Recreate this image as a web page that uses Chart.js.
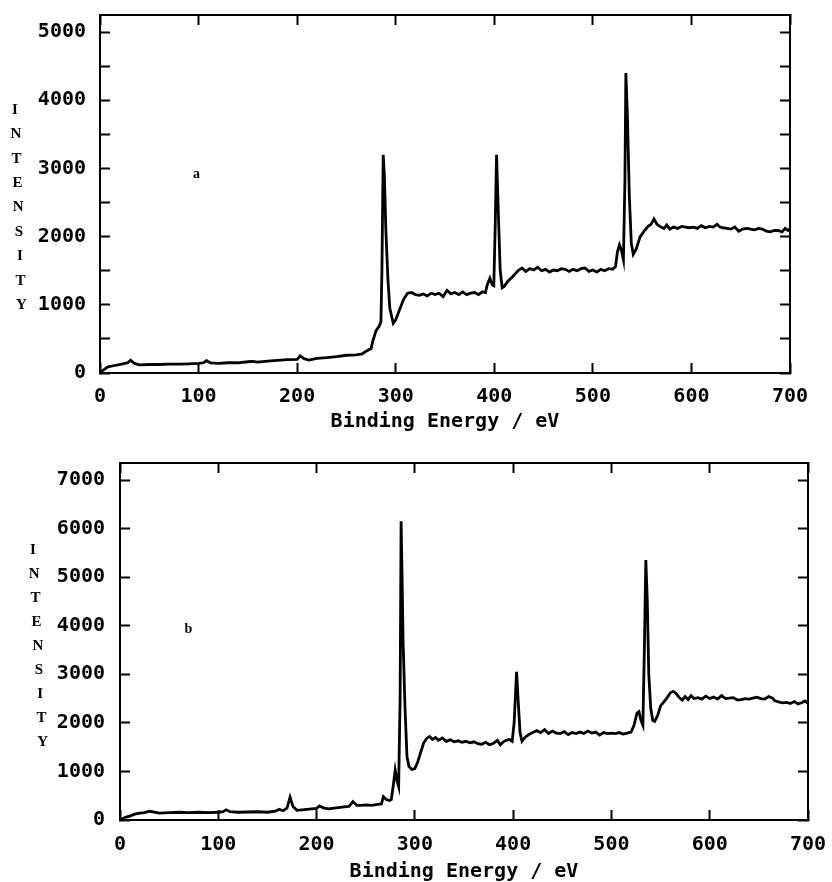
<!DOCTYPE html>
<html>
<head>
<meta charset="utf-8">
<script src="https://cdn.jsdelivr.net/npm/chart.js@4/dist/chart.umd.min.js"></script>
<style>
  html, body { margin: 0; padding: 0; background: #fff; overflow: hidden; }
  #wrapA { position: absolute; left: 0; top: 0; width: 832px; height: 440px; }
  #wrapB { position: absolute; left: 0; top: 440px; width: 832px; height: 442px; }
</style>
</head>
<body>
<div id="wrapA"><canvas id="chartA" width="832" height="440"></canvas></div>
<div id="wrapB"><canvas id="chartB" width="832" height="442"></canvas></div>
<script>
// ---------- data ----------
const energyA = [0,3,8,15,22,28,31,35,40,50,60,70,80,90,100,105,108,112,120,130,140,150,155,160,170,180,190,200,203,207,212,220,230,240,250,260,266,270,275,277,280,283,285,286,287.3,288.5,290,292,294,297.5,300,304,308,312,316,320,324,328,332,336,340,344,348,352,356,360,364,368,372,376,380,384,388,391,393,395.5,398,399.5,401,402.3,404,406,408,410,414,419,424,428,432,436,440,444,448,452,456,460,464,468,472,476,480,484,488,492,496,500,504,508,512,516,520,523,525,527,529,531,532.5,533.5,535,537,539,541,544,548,552,556,559,562,565,568,572,575,578,582,586,590,594,598,602,606,610,614,618,622,626,629,632,636,640,644,648,652,656,660,664,668,672,676,680,684,688,692,695,698,700];
const intensityA = [0,40,90,110,130,150,185,140,120,125,125,130,130,135,140,150,180,150,140,150,150,165,170,160,175,185,195,200,250,210,190,215,225,240,260,265,280,320,360,480,620,680,750,1500,3200,2900,2100,1400,950,730,780,930,1080,1170,1180,1150,1140,1160,1130,1170,1150,1170,1120,1210,1160,1180,1150,1190,1150,1170,1180,1150,1190,1180,1300,1390,1290,1280,2200,3200,2400,1500,1250,1270,1350,1420,1500,1540,1490,1530,1510,1550,1500,1520,1480,1510,1500,1530,1520,1490,1520,1500,1530,1540,1490,1510,1480,1520,1500,1530,1520,1560,1780,1880,1800,1660,2800,4400,3800,2600,1900,1740,1820,2000,2080,2150,2180,2260,2180,2150,2120,2170,2110,2140,2120,2150,2140,2130,2140,2120,2160,2130,2150,2140,2180,2140,2130,2120,2110,2140,2080,2110,2120,2110,2100,2120,2110,2080,2070,2090,2090,2070,2120,2090,2110];

const energyB = [0,3,6,10,15,20,25,30,35,40,50,60,70,80,90,100,105,108,112,120,130,140,150,158,162,166,170,173,176,180,185,190,195,200,203,207,212,220,228,233,237,241,246,250,256,262,266,268,271,274,276,278,280,282,283.5,285,286,287,288,290,292,294,297,300,303,306,309,312,315,318,321,324,328,332,336,340,344,348,352,356,360,364,368,372,376,380,384,387,390,393,396,399,401,403.5,405,407,409,412,416,420,424,428,432,436,440,444,448,452,456,460,464,468,472,476,480,484,488,492,496,500,504,508,512,516,520,523,526,528,530,532,533.5,535,536.5,538,540,542,544,547,550,553,556,560,563,566,569,572,575,578,581,584,588,592,596,600,604,608,612,616,620,624,628,632,636,640,644,648,652,656,660,664,666,670,674,678,682,686,690,694,697,700];
const intensityB = [0,30,60,80,120,140,150,180,160,140,150,160,150,160,150,160,170,210,170,160,165,170,160,180,220,190,250,470,280,200,210,220,230,240,290,250,230,250,270,280,380,300,300,310,300,320,330,480,420,400,420,700,1030,800,690,2500,6150,5000,3700,2300,1300,1100,1040,1060,1200,1400,1590,1680,1720,1660,1700,1640,1690,1620,1650,1610,1630,1600,1620,1590,1610,1570,1560,1600,1550,1580,1640,1550,1610,1640,1660,1620,2000,3050,2500,1800,1620,1700,1760,1800,1840,1800,1860,1780,1830,1790,1780,1820,1760,1800,1780,1810,1780,1830,1790,1810,1750,1800,1780,1790,1780,1800,1770,1790,1810,1950,2200,2230,2050,1950,3500,5350,4500,3000,2300,2050,2030,2150,2350,2420,2500,2620,2650,2600,2520,2470,2540,2480,2560,2500,2520,2490,2550,2500,2530,2490,2560,2500,2510,2520,2470,2480,2500,2490,2510,2530,2500,2490,2540,2510,2460,2430,2410,2420,2400,2440,2390,2420,2450,2400];

const energyTicks = [0,100,200,300,400,500,600,700];
const intensityTicksA = [0,500,1000,1500,2000,2500,3000,3500,4000,4500,5000];
const intensityLabelsA = ['0','','1000','','2000','','3000','','4000','','5000'];
const intensityTicksB = [0,1000,2000,3000,4000,5000,6000,7000];
const intensityLabelsB = ['0','1000','2000','3000','4000','5000','6000','7000'];
const energyMax = 700;
const intensityMaxA = 5250;
const intensityMaxB = 7350;
const xTitle = 'Binding Energy / eV';
const yTitleLetters = ['I','N','T','E','N','S','I','T','Y'];

// ---------- chart builder ----------
const MONO = '"DejaVu Sans Mono", "Liberation Mono", monospace';

function makeChart(canvasId, energy, intensity, yTicks, yLabels, cfg) {
  const pts = energy.map((e, i) => ({ x: e, y: intensity[i] }));
  const gridOpts = {
    display: true, drawOnChartArea: false, drawTicks: true,
    tickLength: -10, tickColor: '#000', tickWidth: 2
  };
  const border = { display: true, color: '#000', width: 2 };
  const setTicks = (vals) => (s) => { s.ticks = vals.map(v => ({ value: v })); };
  const noPad = (s) => { s.paddingTop = 0; s.paddingBottom = 0; s.paddingLeft = 0; s.paddingRight = 0; };
  const labelPlugin = {
    id: 'annot_' + canvasId,
    afterDraw(chart) {
      const ctx = chart.ctx;
      ctx.save();
      ctx.fillStyle = '#000';
      ctx.font = 'bold 15px "Liberation Serif", serif';
      ctx.textAlign = 'center';
      ctx.textBaseline = 'middle';
      yTitleLetters.forEach((ch, i) => {
        ctx.fillText(ch, cfg.yTitleX + i * cfg.yTitleSlant, cfg.yTitleTop + i * cfg.yTitleGap);
      });
      ctx.font = 'bold 14px "Liberation Serif", serif';
      const px = chart.scales.x.getPixelForValue(cfg.tagAt[0]);
      const py = chart.scales.y.getPixelForValue(cfg.tagAt[1]);
      ctx.fillText(cfg.tag, px, py);
      ctx.restore();
    }
  };
  return new Chart(document.getElementById(canvasId), {
    type: 'line',
    data: {
      datasets: [{
        data: pts,
        borderColor: '#000',
        borderWidth: 2.8,
        pointRadius: 0,
        tension: 0,
        fill: false,
        xAxisID: 'x', yAxisID: 'y'
      }]
    },
    options: {
      responsive: false,
      animation: false,
      devicePixelRatio: 1,
      layout: { padding: cfg.padding },
      plugins: { legend: { display: false }, tooltip: { enabled: false } },
      scales: {
        x: {
          type: 'linear', position: 'bottom', min: 0, max: energyMax,
          afterBuildTicks: setTicks(energyTicks),
          afterFit: (s) => { s.height = cfg.xHeight; noPad(s); },
          grid: gridOpts, border: border,
          ticks: {
            color: '#000', padding: cfg.xTickPad, maxRotation: 0, autoSkip: false,
            font: { family: MONO, size: 20, weight: 'bold' }
          },
          title: {
            display: true, text: xTitle, color: '#000',
            font: { family: MONO, size: 20, weight: 'bold', lineHeight: 1 },
            padding: { top: 0, bottom: cfg.titlePad }
          }
        },
        x2: {
          type: 'linear', position: 'top', min: 0, max: energyMax,
          afterBuildTicks: setTicks(energyTicks),
          afterFit: (s) => { s.height = 0; noPad(s); },
          grid: gridOpts, border: border,
          ticks: { display: false }
        },
        y: {
          type: 'linear', position: 'left', min: 0, max: cfg.yMax,
          ticks: {
            color: '#000', padding: cfg.yTickPad, autoSkip: false,
            font: { family: MONO, size: 20, weight: 'bold' },
            callback: (v, i) => yLabels[i]
          },
          afterBuildTicks: setTicks(yTicks),
          afterFit: (s) => { s.width = cfg.yWidth; noPad(s); },
          grid: gridOpts, border: border
        },
        y2: {
          type: 'linear', position: 'right', min: 0, max: cfg.yMax,
          ticks: { display: false },
          afterBuildTicks: setTicks(yTicks),
          afterFit: (s) => { s.width = 0; noPad(s); },
          grid: gridOpts, border: border
        }
      }
    },
    plugins: [labelPlugin]
  });
}

makeChart('chartA', energyA, intensityA, intensityTicksA, intensityLabelsA, {
  padding: { left: 0, right: 42, top: 15, bottom: 0 },
  yWidth: 100, xHeight: 67, xTickPad: 22, yTickPad: 24, titlePad: 8,
  yMax: intensityMaxA,
  yTitleX: 15, yTitleSlant: 0.8, yTitleTop: 110, yTitleGap: 24.4,
  tag: 'a', tagAt: [98, 2910]
});

makeChart('chartB', energyB, intensityB, intensityTicksB, intensityLabelsB, {
  padding: { left: 0, right: 24, top: 23, bottom: 0 },
  yWidth: 120, xHeight: 62, xTickPad: 23, yTickPad: 25, titlePad: 0,
  yMax: intensityMaxB,
  yTitleX: 33, yTitleSlant: 1.2, yTitleTop: 110, yTitleGap: 24,
  tag: 'b', tagAt: [69.5, 3920]
});
</script>
</body>
</html>
